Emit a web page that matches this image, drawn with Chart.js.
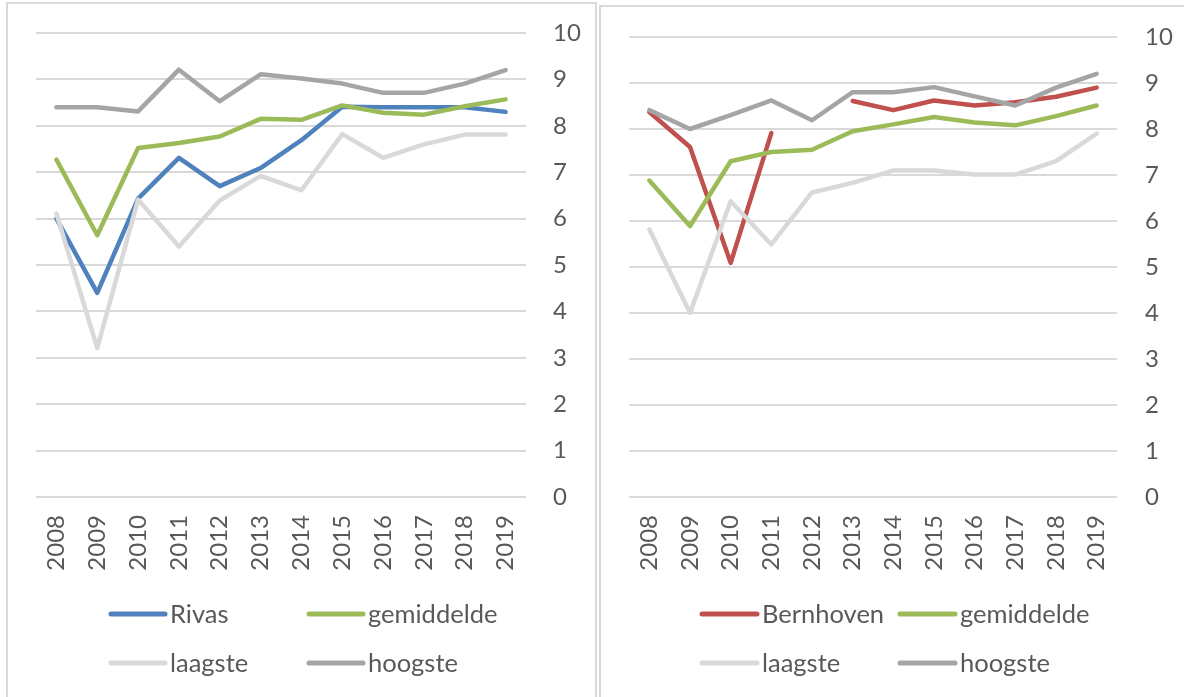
<!DOCTYPE html>
<html><head><meta charset="utf-8">
<script src="https://cdn.jsdelivr.net/npm/chart.js@4"></script>
<style>
html,body{margin:0;padding:0;background:#fff;width:1184px;height:697px;overflow:hidden;position:relative}
.box{position:absolute;border:2px solid #d9d9d9;box-sizing:border-box}
canvas{position:absolute}
</style></head><body>
<div class="box" style="left:6px;top:2px;width:591px;height:720px"></div>
<div class="box" style="left:599px;top:5px;width:620px;height:720px"></div>
<canvas id="c1" width="596" height="697" style="left:0;top:0"></canvas>
<canvas id="c2" width="584" height="697" style="left:600px;top:0"></canvas>
<script>
const years = ['2008','2009','2010','2011','2012','2013','2014','2015','2016','2017','2018','2019'];
const yTicks = [0,1,2,3,4,5,6,7,8,9,10];

// Left chart
const rivas       = [6.0, 4.4, 6.43, 7.31, 6.7, 7.09, 7.69, 8.41, 8.4, 8.4, 8.4, 8.3];
const gemLeft     = [7.27, 5.64, 7.52, 7.63, 7.77, 8.15, 8.13, 8.44, 8.28, 8.24, 8.42, 8.57];
const laagLeft    = [6.11, 3.21, 6.41, 5.4, 6.39, 6.92, 6.61, 7.82, 7.31, 7.6, 7.81, 7.81];
const hoogLeft    = [8.4, 8.4, 8.31, 9.21, 8.53, 9.11, 9.02, 8.91, 8.71, 8.71, 8.91, 9.2];

// Right chart
const bernhoven   = [8.37, 7.61, 5.09, 7.91, null, 8.61, 8.41, 8.62, 8.51, 8.58, 8.7, 8.9];
const gemRight    = [6.88, 5.89, 7.3, 7.5, 7.55, 7.95, 8.1, 8.26, 8.14, 8.08, 8.28, 8.51];
const laagRight   = [5.82, 4.0, 6.43, 5.49, 6.62, 6.83, 7.1, 7.1, 7.01, 7.01, 7.3, 7.9];
const hoogRight   = [8.41, 8.0, 8.3, 8.62, 8.19, 8.8, 8.8, 8.91, 8.71, 8.51, 8.9, 9.2];

const FONT = 'Lato';
const TXT = '#595959';

const legendPlugin = {
  id: 'gridLegend',
  afterDraw(chart, args, opts) {
    const ctx = chart.ctx;
    ctx.save();
    ctx.font = `${opts.size}px ${FONT}`;
    ctx.fillStyle = TXT;
    ctx.textBaseline = 'middle';
    ctx.textAlign = 'left';
    chart.data.datasets.forEach((ds, i) => {
      const col = i % 2, row = Math.floor(i / 2);
      const x = opts.cols[col], y = opts.rows[row];
      ctx.strokeStyle = ds.borderColor;
      ctx.lineWidth = 5;
      ctx.lineCap = 'round';
      ctx.beginPath();
      ctx.moveTo(x, y);
      ctx.lineTo(x + opts.swatch, y);
      ctx.stroke();
      ctx.fillText(ds.label, x + opts.swatch + opts.gap, y + 1);
    });
    ctx.restore();
  }
};

function ds(label, data, color, order) {
  return { label, data, borderColor: color, backgroundColor: color, borderWidth: 4.5,
           pointRadius: 0, pointHoverRadius: 0, tension: 0, spanGaps: false, order,
           borderCapStyle: 'round', borderJoinStyle: 'round' };
}

function makeChart(id, datasets, g) {
  return new Chart(document.getElementById(id), {
    type: 'line',
    data: { labels: years, datasets },
    plugins: [legendPlugin],
    options: {
      responsive: false,
      animation: false,
      events: [],
      layout: { padding: { left: g.left, top: g.top, right: 0, bottom: 0 } },
      plugins: {
        legend: { display: false },
        tooltip: { enabled: false },
        gridLegend: g.legend
      },
      scales: {
        x: {
          offset: true,
          grid: { display: false, drawTicks: false },
          border: { display: false },
          ticks: { color: TXT, font: { family: FONT, size: 24 }, minRotation: 90, maxRotation: 90,
                   autoSkip: false, padding: g.xPad },
          afterFit: s => { s.height = g.xHeight; s.paddingLeft = 0; s.paddingRight = 0; }
        },
        y: {
          position: 'right',
          min: 0, max: 10,
          afterBuildTicks: s => { s.ticks = yTicks.map(v => ({ value: v })); },
          grid: { color: '#d9d9d9', lineWidth: 2, drawTicks: false },
          border: { display: false },
          ticks: { color: TXT, font: { family: FONT, size: 24 }, padding: g.yPad },
          afterFit: s => { s.width = g.yWidth; s.paddingTop = 0; s.paddingBottom = 0; }
        }
      }
    }
  });
}

makeChart('c1', [
  ds('Rivas', rivas, '#4f81bd', 4),
  ds('gemiddelde', gemLeft, '#9bbb59', 3),
  ds('laagste', laagLeft, '#d9d9d9', 2),
  ds('hoogste', hoogLeft, '#a5a5a5', 1)
], { left: 36, top: 33, yWidth: 70, yPad: 27, xPad: 18, xHeight: 200,
     legend: { size: 25.5, cols: [111, 309], rows: [614, 663], swatch: 54, gap: 5 } });

makeChart('c2', [
  ds('Bernhoven', bernhoven, '#c0504d', 4),
  ds('gemiddelde', gemRight, '#9bbb59', 3),
  ds('laagste', laagRight, '#d9d9d9', 2),
  ds('hoogste', hoogRight, '#a5a5a5', 1)
], { left: 29, top: 37, yWidth: 67, yPad: 28, xPad: 18, xHeight: 200,
     legend: { size: 25.5, cols: [102, 300], rows: [614, 663], swatch: 55, gap: 5 } });
</script>
</body></html>
